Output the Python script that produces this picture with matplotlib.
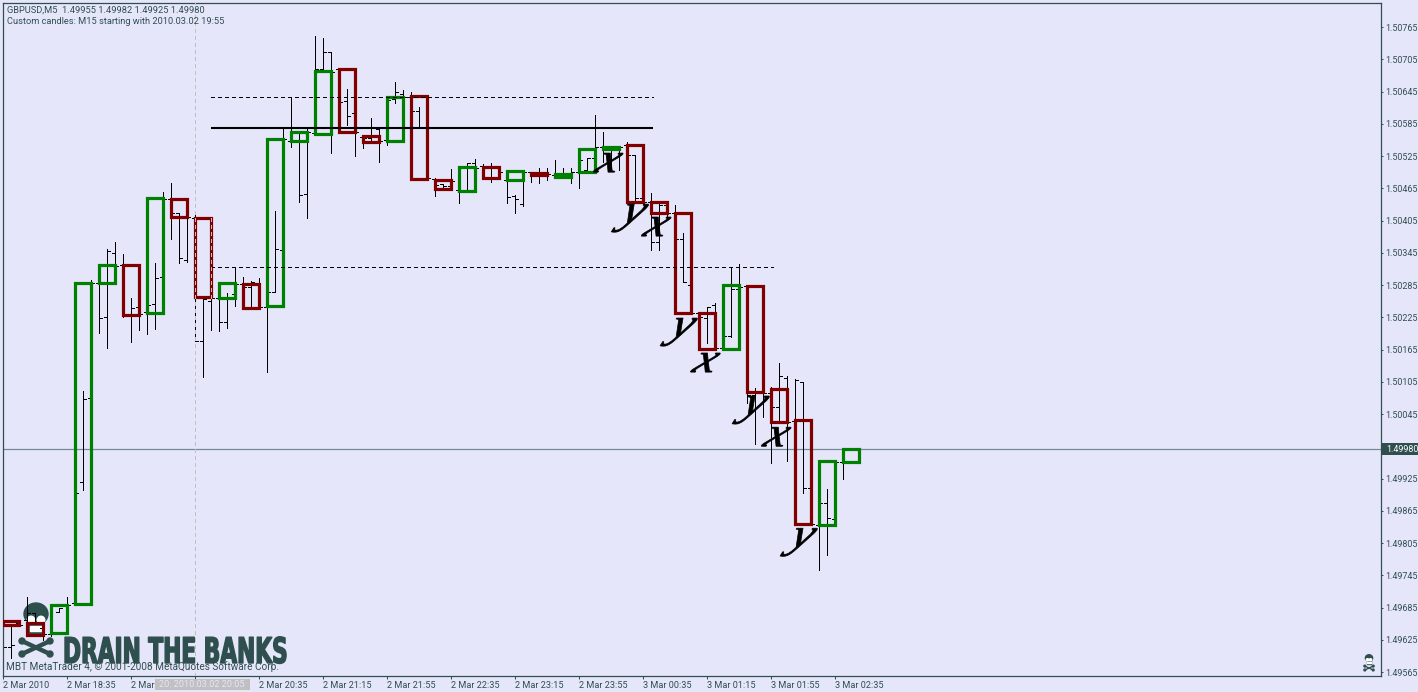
import matplotlib
matplotlib.use('Agg')
import matplotlib.pyplot as plt
from matplotlib.patches import Rectangle, Ellipse
from matplotlib.patheffects import AbstractPathEffect
from matplotlib.transforms import Affine2D

# M5 bars, one per 5 minutes, starting 2 Mar 17:55
bar_high = [
    1.49665, 1.49652, 1.49660, 1.49705, 1.49675, 1.49652, 1.49645, 1.49684, 1.49705, 1.49904,
    1.50088, 1.50294, 1.50291, 1.50352, 1.50365, 1.50343, 1.50261, 1.50244, 1.50248, 1.50326,
    1.50458, 1.50475, 1.50419, 1.50412, 1.50421, 1.50259, 1.50263, 1.50261, 1.50270, 1.50318,
    1.50300, 1.50292, 1.50298, 1.50272, 1.50423, 1.50577, 1.50635, 1.50570, 1.50579, 1.50748,
    1.50745, 1.50719, 1.50687, 1.50650, 1.50605, 1.50560, 1.50596, 1.50577, 1.50635, 1.50663,
    1.50648, 1.50644, 1.50616, 1.50583, 1.50484, 1.50473, 1.50501, 1.50465, 1.50512, 1.50519,
    1.50510, 1.50512, 1.50505, 1.50480, 1.50452, 1.50499, 1.50495, 1.50503, 1.50503, 1.50518,
    1.50503, 1.50503, 1.50518, 1.50521, 1.50601, 1.50570, 1.50540, 1.50542, 1.50551, 1.50527,
    1.50456, 1.50456, 1.50439, 1.50434, 1.50434, 1.50382, 1.50289, 1.50233, 1.50244, 1.50252,
    1.50190, 1.50318, 1.50324, 1.50285, 1.50093, 1.50086, 1.50095, 1.50140, 1.50116, 1.50110,
    1.50105, 1.49907, 1.49879, 1.49905, 1.49958, 1.49982]
bar_low = [
    1.49608, 1.49591, 1.49651, 1.49638, 1.49654, 1.49625, 1.49632, 1.49677, 1.49688, 1.49690,
    1.49904, 1.50071, 1.50196, 1.50168, 1.50320, 1.50225, 1.50179, 1.50201, 1.50194, 1.50203,
    1.50298, 1.50371, 1.50326, 1.50328, 1.50181, 1.50114, 1.50201, 1.50199, 1.50205, 1.50246,
    1.50281, 1.50244, 1.50244, 1.50123, 1.50272, 1.50350, 1.50542, 1.50439, 1.50410, 1.50568,
    1.50683, 1.50531, 1.50625, 1.50583, 1.50525, 1.50540, 1.50555, 1.50514, 1.50545, 1.50624,
    1.50635, 1.50607, 1.50579, 1.50482, 1.50451, 1.50462, 1.50465, 1.50438, 1.50462, 1.50503,
    1.50484, 1.50477, 1.50484, 1.50438, 1.50419, 1.50432, 1.50477, 1.50475, 1.50480, 1.50484,
    1.50488, 1.50475, 1.50465, 1.50499, 1.50521, 1.50514, 1.50499, 1.50499, 1.50527, 1.50443,
    1.50439, 1.50350, 1.50350, 1.50410, 1.50369, 1.50291, 1.50233, 1.50224, 1.50177, 1.50168,
    1.50166, 1.50188, 1.50278, 1.50065, 1.49989, 1.50039, 1.49954, 1.50028, 1.49958, 1.50032,
    1.49898, 1.49838, 1.49755, 1.49783, 1.49848, 1.49925]
bar_open = [
    1.49658, 1.49612, 1.49656, 1.49662, 1.49675, 1.49647, 1.49636, 1.49677, 1.49688, 1.49693,
    1.49918, 1.50075, 1.50289, 1.50225, 1.50345, 1.50322, 1.50229, 1.50244, 1.50235, 1.50250,
    1.50300, 1.50445, 1.50419, 1.50332, 1.50410, 1.50181, 1.50255, 1.50261, 1.50216, 1.50268,
    1.50287, 1.50281, 1.50289, 1.50244, 1.50272, 1.50350, 1.50553, 1.50568, 1.50454, 1.50568,
    1.50687, 1.50719, 1.50687, 1.50627, 1.50605, 1.50560, 1.50558, 1.50575, 1.50555, 1.50631,
    1.50640, 1.50635, 1.50609, 1.50579, 1.50482, 1.50473, 1.50469, 1.50462, 1.50462, 1.50512,
    1.50506, 1.50506, 1.50486, 1.50480, 1.50451, 1.50436, 1.50495, 1.50490, 1.50492, 1.50490,
    1.50493, 1.50488, 1.50495, 1.50499, 1.50521, 1.50542, 1.50536, 1.50540, 1.50545, 1.50527,
    1.50447, 1.50439, 1.50365, 1.50434, 1.50419, 1.50371, 1.50285, 1.50233, 1.50224, 1.50248,
    1.50168, 1.50190, 1.50278, 1.50283, 1.50080, 1.50086, 1.50084, 1.50058, 1.50112, 1.50032,
    1.50105, 1.49907, 1.49838, 1.49879, 1.49850, 1.49955]
bar_close = [
    1.49612, 1.49615, 1.49652, 1.49675, 1.49654, 1.49636, 1.49638, 1.49684, 1.49690, 1.49898,
    1.50073, 1.50289, 1.50224, 1.50348, 1.50320, 1.50227, 1.50242, 1.50231, 1.50248, 1.50298,
    1.50445, 1.50419, 1.50335, 1.50412, 1.50181, 1.50259, 1.50261, 1.50216, 1.50263, 1.50287,
    1.50281, 1.50291, 1.50244, 1.50272, 1.50352, 1.50557, 1.50568, 1.50452, 1.50570, 1.50687,
    1.50719, 1.50681, 1.50625, 1.50599, 1.50570, 1.50558, 1.50560, 1.50553, 1.50629, 1.50644,
    1.50635, 1.50609, 1.50579, 1.50484, 1.50471, 1.50469, 1.50478, 1.50462, 1.50512, 1.50503,
    1.50506, 1.50486, 1.50495, 1.50449, 1.50445, 1.50495, 1.50490, 1.50492, 1.50492, 1.50490,
    1.50488, 1.50495, 1.50518, 1.50521, 1.50542, 1.50536, 1.50540, 1.50542, 1.50527, 1.50447,
    1.50439, 1.50365, 1.50434, 1.50419, 1.50371, 1.50291, 1.50233, 1.50225, 1.50244, 1.50168,
    1.50190, 1.50278, 1.50281, 1.50080, 1.50086, 1.50084, 1.50058, 1.50116, 1.50030, 1.50108,
    1.49907, 1.49840, 1.49879, 1.49852, 1.49956, 1.49980]

# custom M15 candles, each one sits on the middle of three M5 bars
candle_open = [
    1.49660, 1.49656, 1.49638, 1.49692, 1.50289, 1.50322, 1.50233, 1.50445, 1.50410, 1.50261,
    1.50287, 1.50246, 1.50553, 1.50566, 1.50687, 1.50562, 1.50553, 1.50637, 1.50480, 1.50460,
    1.50505, 1.50480, 1.50493, 1.50486, 1.50495, 1.50538, 1.50545, 1.50439, 1.50419, 1.50233,
    1.50166, 1.50283, 1.50092, 1.50034, 1.49838, 1.49955]
candle_close = [
    1.49652, 1.49634, 1.49690, 1.50289, 1.50322, 1.50229, 1.50447, 1.50412, 1.50263, 1.50289,
    1.50242, 1.50557, 1.50570, 1.50683, 1.50570, 1.50551, 1.50635, 1.50482, 1.50464, 1.50505,
    1.50484, 1.50497, 1.50490, 1.50492, 1.50538, 1.50542, 1.50439, 1.50419, 1.50233, 1.50166,
    1.50285, 1.50086, 1.50030, 1.49840, 1.49958, 1.49980]

# hand drawn wave labels: bar position, price, letter
wave_pos = [75.75, 78.9, 81.75, 85, 87.9, 94, 96.75, 100]
wave_price = [1.50514, 1.50419, 1.50395, 1.50207, 1.50142, 1.50062, 1.50004, 1.49816]
wave_text = ['x', 'y', 'x', 'y', 'x', 'y', 'x', 'y']

time_labels = ['2 Mar 2010', '2 Mar 18:35', '2 Mar 19:15', '2 Mar 19:55', '2 Mar 20:35',
               '2 Mar 21:15', '2 Mar 21:55', '2 Mar 22:35', '2 Mar 23:15', '2 Mar 23:55',
               '3 Mar 00:35', '3 Mar 01:15', '3 Mar 01:55', '3 Mar 02:35']
price_ticks = [1.50765, 1.50705, 1.50645, 1.50585, 1.50525, 1.50465, 1.50405, 1.50345,
               1.50285, 1.50225, 1.50165, 1.50105, 1.50045, 1.49985, 1.49925, 1.49865,
               1.49805, 1.49745, 1.49685, 1.49625, 1.49565]
last_price = 1.49980

W = 1418
H = 692
BG = '#E6E6FA'
SLATE = '#2F4F4F'
GREEN = '#008000'
RED = '#800000'
FONT = 'Roboto'


class Warp(AbstractPathEffect):
    # stretches and slants a text around a point, no script or condensed font is installed
    def __init__(self, x0, y0, sx, skew, stroke):
        super().__init__()
        self.x0 = x0
        self.y0 = y0
        self.sx = sx
        self.skew = skew
        self.stroke = stroke

    def draw_path(self, renderer, gc, tpath, affine, rgbFace=None):
        gc0 = renderer.new_gc()
        gc0.copy_properties(gc)
        gc0.set_linewidth(self.stroke)
        gc0.set_foreground(rgbFace)
        t = Affine2D().translate(-self.x0, -self.y0).scale(self.sx, 1).skew_deg(self.skew, 0)
        t = t.translate(self.x0, self.y0)
        renderer.draw_path(gc0, tpath, affine + t, rgbFace)
        gc0.restore()


def draw_skull(ax, trans, cx, cy, s):
    # cx, cy is the middle of the head, in picture pixels
    head = Ellipse((cx, cy), 24 * s, 22 * s, color=SLATE, transform=trans, zorder=1)
    ax.add_patch(head)
    ax.add_patch(Rectangle((cx - 7 * s, cy + 6 * s), 14 * s, 13 * s, color=SLATE, transform=trans, zorder=1))
    for dx in (-5, 5):
        ax.add_patch(Ellipse((cx + dx * s, cy + 6 * s), 7.5 * s, 7.5 * s, color='white', transform=trans, zorder=1))
    ax.add_patch(Rectangle((cx - 6 * s, cy + 12 * s), 12 * s, 5 * s, color='white', transform=trans, zorder=1))
    for x1, x2 in ((cx - 14 * s, cx + 14 * s), (cx + 14 * s, cx - 14 * s)):
        ax.plot([x1, x2], [cy + 27 * s, cy + 40 * s], color=SLATE, lw=3.2 * s, solid_capstyle='round',
                transform=trans, zorder=1)
        for xe, ye in ((x1, cy + 27 * s), (x2, cy + 40 * s)):
            ax.add_patch(Ellipse((xe, ye), 6 * s, 6 * s, color=SLATE, transform=trans, zorder=1))


def main():
    plt.rcParams['font.family'] = [FONT, 'DejaVu Sans']

    fig = plt.figure(figsize=(W / 100, H / 100), dpi=100, facecolor=BG)
    ax = fig.add_axes([2.5 / W, (H - 675.5) / H, 1378 / W, 673 / H], facecolor=BG)
    ax.set_xlim(-0.0625, 172.1875)
    ax.set_ylim(1.495585, 1.508106)

    # picture pixels, y going down, for the things that are not data
    px = Affine2D().scale(1, -1).translate(0, H)

    draw_skull(ax, px, 36, 614, 1)
    draw_skull(ax, px, 1369, 658, 0.3)

    bars = list(range(len(bar_high)))
    ax.vlines(bars, bar_low, bar_high, color='black', lw=0.72, antialiased=False, zorder=2)
    ax.hlines(bar_open, [b - 0.375 for b in bars], bars, color='black', lw=0.72, antialiased=False, zorder=2)
    ax.hlines(bar_close, bars, [b + 0.375 for b in bars], color='black', lw=0.72, antialiased=False, zorder=2)

    candle_pos = [1 + 3 * i for i in range(len(candle_open))]
    for pos, o, c in zip(candle_pos, candle_open, candle_close):
        col = GREEN if c > o else RED
        ax.bar(pos, abs(c - o), bottom=min(o, c), width=2, fill=False, edgecolor=col, linewidth=2.3, zorder=3)

    # support and resistance levels
    ax.hlines(1.50635, 26, 81.25, color='black', lw=0.72, linestyles=(0, (3, 3)), antialiased=False, zorder=4)
    ax.hlines(1.50577, 26, 81.25, color='black', lw=1.5, zorder=4)
    ax.hlines(1.50319, 26, 96.25, color='black', lw=0.72, linestyles=(0, (3, 3)), antialiased=False, zorder=4)

    # crosshair
    ax.axvline(24, color='#C0C0C0', lw=0.72, linestyle=(0, (3, 3)), antialiased=False, zorder=5)
    ax.vlines(26, 1.50260, 1.50410, color='#C0C0C0', lw=0.72, linestyles=(0, (3, 3)), antialiased=False, zorder=5)
    ax.axhline(last_price, color='#778899', lw=0.9, zorder=1.5)

    for pos, price, letter in zip(wave_pos, wave_price, wave_text):
        t = ax.text(pos, price, letter, family='Liberation Serif', style='italic',
                    fontsize=30, ha='center', va='center', color='black', zorder=6)
        x0, y0 = ax.transData.transform((pos, price))
        t.set_path_effects([Warp(x0, y0, 1.2, 22, 0.5)])

    ax.set_xticks([8 * i for i in range(len(time_labels))])
    ax.set_xticklabels(time_labels, ha='left')
    ax.set_yticks(price_ticks)
    ax.set_yticklabels(['%.5f' % p for p in price_ticks])
    ax.yaxis.tick_right()
    ax.tick_params(axis='x', length=2.5, width=0.72, color=SLATE, labelcolor=SLATE, labelsize=6.6, pad=1.5)
    ax.tick_params(axis='y', length=1.5, width=0.72, color=SLATE, labelcolor=SLATE, labelsize=6.4, pad=2)
    for side in ax.spines:
        ax.spines[side].set_color(SLATE)
        ax.spines[side].set_linewidth(0.9)

    fig.text(7 / W, 1 - 10 / H, 'GBPUSD,M5  1.49955 1.49982 1.49925 1.49980', color=SLATE,
             fontsize=6.7, va='center', zorder=6)
    fig.text(7 / W, 1 - 21 / H, 'Custom candles: M15 starting with 2010.03.02 19:55', color=SLATE,
             fontsize=6.65, va='center', zorder=6)

    logo = ax.text(63, 663, 'DRAIN THE BANKS', transform=px, family='DejaVu Sans', weight='bold',
                   fontsize=25.5, color=SLATE, va='baseline', ha='left', zorder=1, clip_on=False)
    logo.set_path_effects([Warp(63, 0, 0.613, 0, 1.0)])
    fig.text(6 / W, 1 - 667 / H, 'MBT MetaTrader 4, \u00a9 2001-2008 MetaQuotes Software Corp.', color=SLATE,
             fontsize=7.2, va='center', zorder=6)

    # price and time boxes drawn over the axes
    fig.add_artist(Rectangle((1382 / W, 1 - 454.5 / H), 36 / W, 11.5 / H, transform=fig.transFigure,
                             facecolor=SLATE, edgecolor='none', zorder=7))
    fig.text(1386 / W, 1 - 449 / H, '%.5f' % last_price, color='white', fontsize=6.4, va='center', zorder=8)
    fig.add_artist(Rectangle((155 / W, 1 - 690 / H), 95 / W, 11 / H, transform=fig.transFigure,
                             facecolor='#C0C0C0', edgecolor='none', zorder=7))
    fig.text(159 / W, 1 - 684.5 / H, '20: 2010.03.02 20:05', color=BG, fontsize=6.6, va='center', zorder=8)

    fig.savefig('out.png', dpi=100, facecolor=BG)


if __name__ == '__main__':
    main()
